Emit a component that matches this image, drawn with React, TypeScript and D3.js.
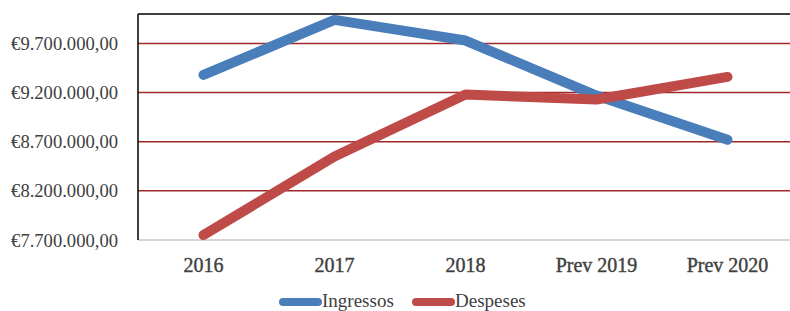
import React from "react";
import * as d3 from "d3";

const categories = ["2016", "2017", "2018", "Prev 2019", "Prev 2020"];
const ingressos = [9380000, 9940000, 9730000, 9170000, 8720000];
const despeses = [7750000, 8550000, 9180000, 9130000, 9360000];
const yTicks = [7700000, 8200000, 8700000, 9200000, 9700000];
const seriesNames = ["Ingressos", "Despeses"];

const W = 790;
const H = 311;
const left = 138;
const right = 793;
const top = 14;
const bottom = 240;

const fmt = (v: number) => {
  const s = Math.round(v).toString().replace(/\B(?=(\d{3})+(?!\d))/g, ".");
  return "€" + s + ",00";
};

export default function App() {
  const x = d3.scaleBand<string>().domain(categories).range([left, right]);
  const y = d3.scaleLinear().domain([7700000, 10000000]).range([bottom, top]);
  const line = d3
    .line<number>()
    .x((_, i) => (x(categories[i]) as number) + x.bandwidth() / 2)
    .y((d) => y(d));

  const colors = ["#4A7EBB", "#BE4B48"];
  const series = [ingressos, despeses];

  return (
    <svg
      width={W}
      height={H}
      style={{ position: "absolute", left: 0, top: 0, background: "#fff" }}
    >
      {yTicks.map((t) => (
        <g key={t}>
          {t !== 7700000 && (
            <line x1={left} x2={W} y1={y(t)} y2={y(t)} stroke="#A0282A" strokeWidth={1.5} />
          )}
          <text
            x={118}
            y={y(t)}
            textAnchor="end"
            dominantBaseline="central"
            fontFamily="Liberation Serif"
            fontSize={18.6}
            fill="#404040"
          >
            {fmt(t)}
          </text>
        </g>
      ))}
      <line x1={left} x2={W} y1={bottom} y2={bottom} stroke="#C8C8C8" strokeWidth={1.5} />
      <line x1={left} x2={W} y1={top} y2={top} stroke="#000" strokeWidth={1.5} />
      <line x1={left} x2={left} y1={top} y2={bottom} stroke="#000" strokeWidth={1.5} />
      {categories.map((c) => (
        <text
          key={c}
          x={(x(c) as number) + x.bandwidth() / 2}
          y={265}
          textAnchor="middle"
          dominantBaseline="central"
          fontFamily="Liberation Serif"
          fontSize={20}
          fill="#404040"
          stroke="#404040"
          strokeWidth={0.4}
        >
          {c}
        </text>
      ))}
      {series.map((s, i) => (
        <path
          key={i}
          d={line(s) as string}
          fill="none"
          stroke={colors[i]}
          strokeWidth={10}
          strokeLinecap="round"
          strokeLinejoin="round"
        />
      ))}
      {seriesNames.map((n, i) => {
        const lx = [279, 412][i];
        return (
          <g key={n}>
            <line
              x1={lx + 4}
              x2={lx + 39}
              y1={302}
              y2={302}
              stroke={colors[i]}
              strokeWidth={8}
              strokeLinecap="round"
            />
            <text
              x={lx + 43}
              y={300}
              dominantBaseline="central"
              fontFamily="Liberation Serif"
              fontSize={19}
              fill="#404040"
            >
              {n}
            </text>
          </g>
        );
      })}
    </svg>
  );
}
